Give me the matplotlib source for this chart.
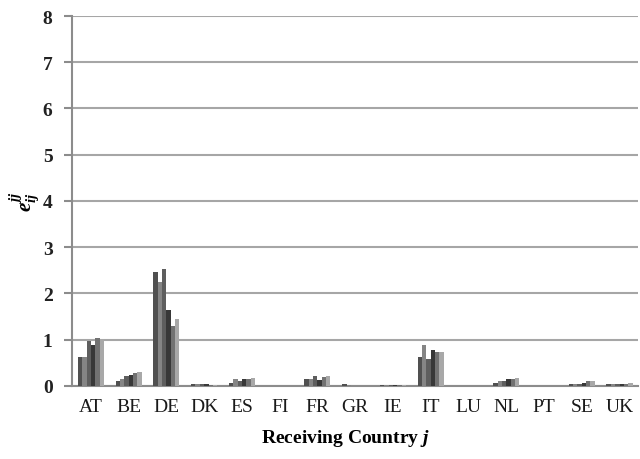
import numpy as np
import matplotlib
matplotlib.use('Agg')
import matplotlib.pyplot as plt

# Receiving countries
countries = ['AT', 'BE', 'DE', 'DK', 'ES', 'FI', 'FR', 'GR', 'IE', 'IT', 'LU', 'NL', 'PT', 'SE', 'UK']

# Six series per country
s1 = [0.62, 0.10, 2.46, 0.04, 0.07, 0.00, 0.14, 0.03, 0.01, 0.63, 0.00, 0.07, 0.00, 0.04, 0.04]
s2 = [0.62, 0.14, 2.24, 0.04, 0.14, 0.00, 0.14, 0.01, 0.01, 0.89, 0.00, 0.10, 0.00, 0.04, 0.04]
s3 = [0.97, 0.22, 2.53, 0.03, 0.10, 0.00, 0.22, 0.00, 0.02, 0.59, 0.00, 0.10, 0.00, 0.04, 0.04]
s4 = [0.89, 0.24, 1.64, 0.03, 0.14, 0.00, 0.13, 0.00, 0.01, 0.78, 0.00, 0.14, 0.00, 0.07, 0.04]
s5 = [1.04, 0.27, 1.30, 0.02, 0.15, 0.00, 0.19, 0.00, 0.01, 0.74, 0.00, 0.14, 0.00, 0.10, 0.05]
s6 = [1.02, 0.29, 1.45, 0.02, 0.18, 0.00, 0.22, 0.00, 0.01, 0.74, 0.00, 0.18, 0.00, 0.10, 0.07]
series = [s1, s2, s3, s4, s5, s6]
colors = ['#505050', '#858585', '#5e5e5e', '#383838', '#727272', '#a8a8a8']

plt.rcParams['font.family'] = ['Liberation Serif', 'DejaVu Serif']
plt.rcParams['mathtext.fontset'] = 'custom'
plt.rcParams['mathtext.rm'] = 'Liberation Serif'
plt.rcParams['mathtext.it'] = 'Liberation Serif:italic:bold'
plt.rcParams['mathtext.bf'] = 'Liberation Serif:bold'

fig = plt.figure(figsize=(6.4, 4.6), dpi=100)
ax = fig.add_axes([0.1125, 0.159, 0.885, 0.804])

x = np.arange(len(countries))
w = 0.115
for i, s in enumerate(series):
    ax.bar(x + (i - 2.5) * w, s, width=w, color=colors[i], zorder=3)

ax.set_xlim(-0.5, len(countries) - 0.5)
ax.set_ylim(0, 8)
ax.set_yticks(range(0, 9))
ax.yaxis.grid(True, color='#a6a6a6', linewidth=1.5, zorder=0)
ax.set_xticks(x)
ax.set_xticklabels(countries, fontsize=14, color='#1a1a1a')
for lab in ax.get_yticklabels():
    lab.set_fontsize(14)
    lab.set_fontweight('bold')
    lab.set_color('#222222')

for sp in ['top', 'right']:
    ax.spines[sp].set_visible(False)
ax.spines['left'].set_color('#8c8c8c')
ax.spines['bottom'].set_color('#8c8c8c')
ax.spines['left'].set_linewidth(1.5)
ax.spines['bottom'].set_linewidth(1.5)
ax.tick_params(axis='y', length=6, color='#8c8c8c', width=1.5, pad=8)
ax.tick_params(axis='x', length=0, pad=9)

ax.set_xlabel(r'Receiving Country $j$', fontsize=14, fontweight='bold')
ax.xaxis.set_label_coords(0.482, -0.11)
ax.set_ylabel(r'$e_{ij}^{jj}$', fontsize=15)
ax.yaxis.set_label_coords(-0.055, 0.5)

fig.savefig('out.png', dpi=100)
